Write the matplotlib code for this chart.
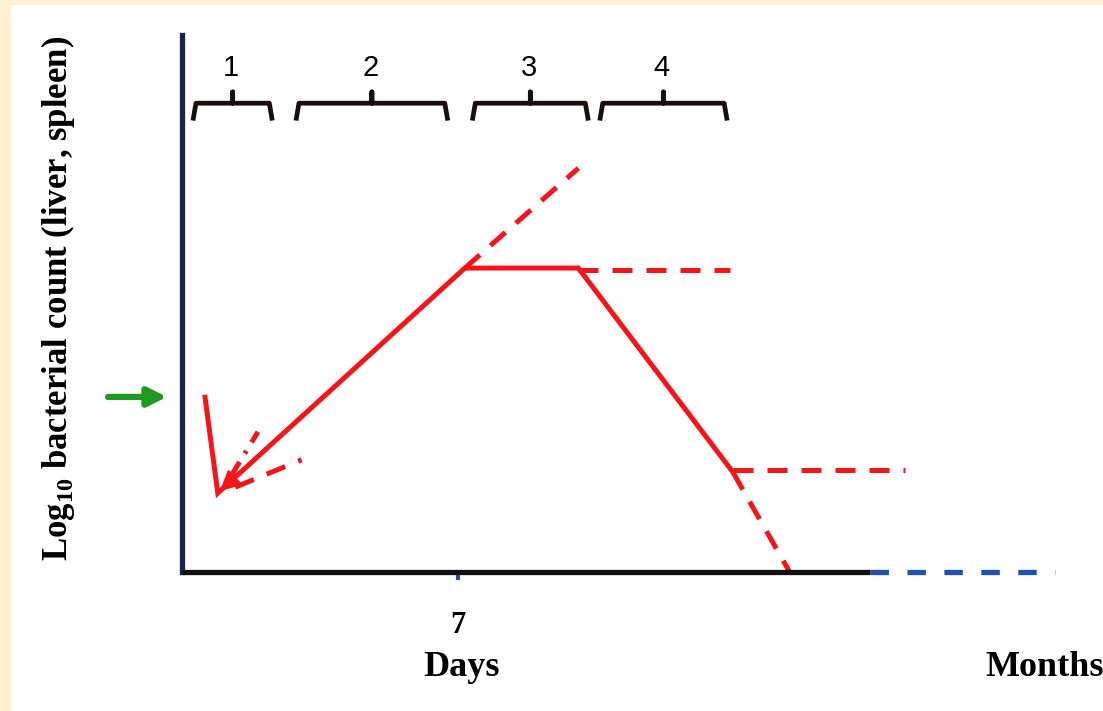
import matplotlib
matplotlib.use("Agg")
import matplotlib.pyplot as plt
from matplotlib.patches import Rectangle

plt.rcParams["mathtext.fontset"] = "custom"
plt.rcParams["mathtext.rm"] = "Liberation Serif"
plt.rcParams["mathtext.bf"] = "Liberation Serif:bold"

# conceptual units: x = time (arbitrary), y = log10 count (arbitrary)
curve_x = [2.6, 4.1, 32.4, 45.4, 63.1]
curve_y = [33.0, 14.7, 56.6, 56.6, 18.6]

# dashed alternative courses: (x0, y0, x1, y1)
alt_lines = [
    (32.4, 56.6, 45.4, 75.2),   # continued growth
    (45.4, 56.2, 62.8, 56.2),   # plateau
    (63.1, 19.0, 82.8, 19.0),   # chronic persistence
    (63.1, 18.6, 69.6, 0.0),    # clearance
    (6.1, 15.8, 13.7, 20.9),    # early slow growth
]
dashdot_line = (5.7, 18.1, 8.7, 26.1)

phase_labels = ["1", "2", "3", "4"]
phase_start = [1.3, 13.1, 33.3, 47.9]
phase_end = [10.3, 30.4, 46.5, 62.4]

day7_x = 31.6
axis_solid_end = 78.8
axis_dash_end = 100.0
inoculum_y = 32.6

red = "#f5141a"
serif = "Liberation Serif"

fig = plt.figure(figsize=(11.03, 7.11), dpi=100)
fig.patch.set_facecolor("white")
fig.patches.append(Rectangle((0, 0), 10 / 1103, 1, transform=fig.transFigure,
                             color="#fff1d4", zorder=0))
fig.patches.append(Rectangle((0, 1 - 4 / 711), 1, 4 / 711, transform=fig.transFigure,
                             color="#fff1d4", zorder=0))

ax = fig.add_axes([182 / 1103, (711 - 572) / 711, 873 / 1103, 537 / 711])
ax.set_xlim(0, 100)
ax.set_ylim(0, 100)
ax.patch.set_alpha(0)

for s in ["top", "right"]:
    ax.spines[s].set_visible(False)
ax.spines["left"].set_color("#1b2440")
ax.spines["left"].set_linewidth(3.8)
ax.spines["bottom"].set_color("#111111")
ax.spines["bottom"].set_linewidth(3.8)
ax.spines["bottom"].set_bounds(0, axis_solid_end)
ax.spines["bottom"].set_capstyle("butt")

ax.plot([axis_solid_end, axis_dash_end], [0, 0], color="#2150b5", lw=3.8,
        dashes=(3.5, 3.5), clip_on=False, solid_capstyle="butt")

ax.set_yticks([])
ax.set_xticks([day7_x])
ax.set_xticklabels(["7"], fontfamily=serif, fontweight="bold", fontsize=22)
ax.tick_params(axis="x", direction="out", length=6, width=3, color="#2150b5",
               pad=22)

# main course
ax.plot(curve_x, curve_y, color=red, lw=3.6, solid_capstyle="butt",
        solid_joinstyle="miter", clip_on=False)
ax.annotate("", xy=(curve_x[1], curve_y[1]), xytext=(curve_x[1] + 1.6, curve_y[1] + 2.4),
            arrowprops=dict(arrowstyle="-|>", color=red, lw=2, mutation_scale=30))

for x0, y0, x1, y1 in alt_lines:
    ax.plot([x0, x1], [y0, y1], color=red, lw=3.6, dashes=(4, 2.8), clip_on=False)
x0, y0, x1, y1 = dashdot_line
ax.plot([x0, x1], [y0, y1], color=red, lw=3.6, dashes=(3, 2, 0.6, 2), clip_on=False)

# phase brackets
for lab, a, b in zip(phase_labels, phase_start, phase_end):
    c = (a + b) / 2
    ax.plot([a, a + 0.3, c, c, c, b - 0.3, b],
            [84.5, 87.3, 87.3, 89.4, 87.3, 87.3, 84.5],
            color="#1a0d0d", lw=3.4, solid_joinstyle="round", clip_on=False)
    ax.text(c - 0.2, 93.9, lab, ha="center", va="center", fontsize=21,
            fontfamily="Liberation Sans")

# inoculum arrow
ax.annotate("", xy=(-1.4, inoculum_y), xytext=(-8.8, inoculum_y),
            arrowprops=dict(arrowstyle="-|>", color="#1e9a22", lw=4.5,
                            mutation_scale=28), annotation_clip=False)

fig.text(462 / 1103, 1 - 667 / 711, "Days", ha="center", va="center",
         fontfamily=serif, fontweight="bold", fontsize=26)
fig.text(1045 / 1103, 1 - 667 / 711, "Months", ha="center", va="center",
         fontfamily=serif, fontweight="bold", fontsize=26)
fig.text(58 / 1103, 1 - 298 / 711, r"Log$_{\mathbf{10}}$ bacterial count (liver, spleen)",
         rotation=90, ha="center", va="center", fontfamily=serif,
         fontweight="bold", fontsize=25)

fig.savefig("out.png", dpi=100, facecolor=fig.get_facecolor())
